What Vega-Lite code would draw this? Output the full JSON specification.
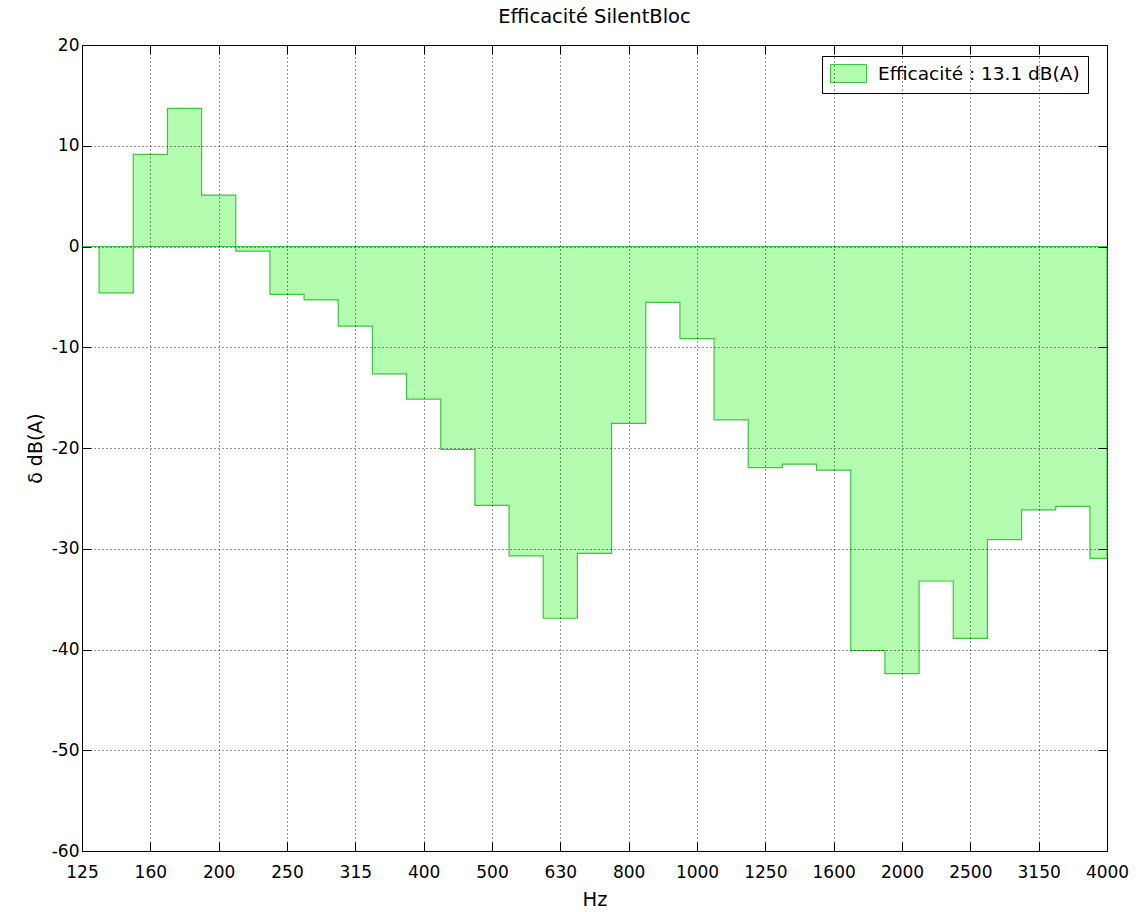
{
  "$schema": "https://vega.github.io/schema/vega-lite/v6.json",
  "width": 1025,
  "height": 806,
  "autosize": {"type": "none"},
  "padding": {"left": 82, "top": 45, "right": 37, "bottom": 61},
  "background": "white",
  "config": {
    "font": "DejaVu Sans",
    "view": {"stroke": "#000000", "strokeWidth": 1},
    "axis": {"labelFont": "DejaVu Sans", "titleFont": "DejaVu Sans", "labelColor": "#000", "titleColor": "#000", "titleFontWeight": "normal"}
  },
  "title": {"text": "Efficacité SilentBloc", "fontSize": 19.5, "fontWeight": "normal", "font": "DejaVu Sans", "color": "#000", "offset": 9, "anchor": "middle"},
  "data": {"values": [
    {"band": 0, "delta": 0},
    {"band": 1, "delta": -4.6},
    {"band": 2, "delta": 9.15},
    {"band": 3, "delta": 13.7},
    {"band": 4, "delta": 5.1},
    {"band": 5, "delta": -0.45},
    {"band": 6, "delta": -4.75},
    {"band": 7, "delta": -5.3},
    {"band": 8, "delta": -7.9},
    {"band": 9, "delta": -12.65},
    {"band": 10, "delta": -15.15},
    {"band": 11, "delta": -20.15},
    {"band": 12, "delta": -25.7},
    {"band": 13, "delta": -30.7},
    {"band": 14, "delta": -36.9},
    {"band": 15, "delta": -30.45},
    {"band": 16, "delta": -17.55},
    {"band": 17, "delta": -5.55},
    {"band": 18, "delta": -9.15},
    {"band": 19, "delta": -17.2},
    {"band": 20, "delta": -21.95},
    {"band": 21, "delta": -21.6},
    {"band": 22, "delta": -22.2},
    {"band": 23, "delta": -40.1},
    {"band": 24, "delta": -42.4},
    {"band": 25, "delta": -33.2},
    {"band": 26, "delta": -38.9},
    {"band": 27, "delta": -29.1},
    {"band": 28, "delta": -26.15},
    {"band": 29, "delta": -25.8},
    {"band": 30, "delta": -30.95}
  ]},
  "resolve": {"axis": {"x": "independent", "y": "independent"}},
  "layer": [
    {
      "mark": {"type": "area", "interpolate": "step", "fill": "#b3fbae", "fillOpacity": 1, "stroke": "#3cc83c", "strokeWidth": 1.2},
      "encoding": {
        "x": {"field": "band", "type": "quantitative",
          "scale": {"domain": [0, 30], "nice": false, "zero": false},
          "axis": {"orient": "bottom", "values": [0,2,4,6,8,10,12,14,16,18,20,22,24,26,28,30],
            "labelExpr": "['125','160','200','250','315','400','500','630','800','1000','1250','1600','2000','2500','3150','4000'][datum.value/2]",
            "title": "Hz", "titleFontSize": 19.5, "titlePadding": 10,
            "labelFontSize": 17, "labelPadding": 22, "labelFlush": false,
            "grid": true, "gridDash": [1, 3], "gridColor": "#000", "gridOpacity": 0.85, "gridWidth": 1,
            "domain": false, "ticks": true, "tickSize": -9, "tickColor": "#000", "tickWidth": 1, "zindex": 1}},
        "y": {"field": "delta", "type": "quantitative",
          "scale": {"domain": [-60, 20], "nice": false},
          "axis": {"orient": "left", "values": [-60,-50,-40,-30,-20,-10,0,10,20],
            "labelExpr": "datum.value + ''",
            "title": "δ dB(A)", "titleFontSize": 19, "titlePadding": 6,
            "labelFontSize": 17, "labelPadding": 12,
            "grid": true, "gridDash": [1, 3], "gridColor": "#000", "gridOpacity": 0.85, "gridWidth": 1,
            "domain": false, "ticks": true, "tickSize": -9, "tickColor": "#000", "tickWidth": 1, "zindex": 1}},
        "y2": {"datum": 0},
        "color": {"datum": "Efficacité : 13.1 dB(A)", "type": "nominal",
          "scale": {"range": ["#b3fbae"]},
          "legend": {"orient": "none", "legendX": 740, "legendY": 11, "title": null,
            "fillColor": "white", "strokeColor": "#000", "padding": 8,
            "symbolType": "M-2,-1H2V1H-2Z", "symbolSize": 324, "symbolOffset": 9,
            "symbolStrokeColor": "#3cc83c", "symbolStrokeWidth": 1,
            "symbolFillColor": "#b3fbae", "symbolOpacity": 1,
            "labelFontSize": 18.5, "labelFont": "DejaVu Sans", "labelColor": "#000", "labelLimit": 400, "labelOffset": 20}}
      }
    },
    {
      "mark": {"type": "area", "interpolate": "step", "fillOpacity": 0, "strokeOpacity": 0},
      "encoding": {
        "x": {"field": "band", "type": "quantitative",
          "scale": {"domain": [0, 30], "nice": false, "zero": false},
          "axis": {"orient": "top", "values": [0,2,4,6,8,10,12,14,16,18,20,22,24,26,28,30], "labels": false, "title": null,
            "grid": false, "domain": false, "ticks": true, "tickSize": -9, "tickColor": "#000", "zindex": 1}},
        "y": {"field": "delta", "type": "quantitative",
          "scale": {"domain": [-60, 20], "nice": false},
          "axis": {"orient": "right", "values": [-60,-50,-40,-30,-20,-10,0,10,20], "labels": false, "title": null,
            "grid": false, "domain": false, "ticks": true, "tickSize": -9, "tickColor": "#000", "zindex": 1}}
      }
    }
  ]
}
